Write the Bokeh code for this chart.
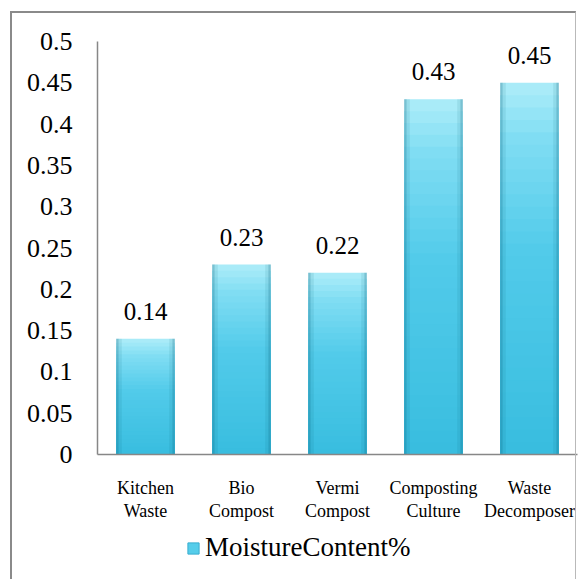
from bokeh.plotting import figure
from bokeh.layouts import column
from bokeh.models import (FactorRange, Range1d, FixedTicker, CategoricalAxis,
                          Legend, LegendItem, ColumnDataSource, InlineStyleSheet,
                          CustomJSTickFormatter)
from bokeh.transform import dodge
from bokeh.core.properties import value
from bokeh.embed import file_html
from bokeh.resources import INLINE

# --- data ---------------------------------------------------------------
categories = ["Kitchen Waste", "Bio Compost", "Vermi Compost",
              "Composting Culture", "Waste Decomposer"]
label_line1 = ["Kitchen", "Bio", "Vermi", "Composting", "Waste"]
label_line2 = ["Waste", "Compost", "Compost", "Culture", "Decomposer"]
moisture = [0.14, 0.23, 0.22, 0.43, 0.45]
value_labels = ["0.14", "0.23", "0.22", "0.43", "0.45"]
y_ticks = [0, 0.05, 0.1, 0.15, 0.2, 0.25, 0.3, 0.35, 0.4, 0.45, 0.5]
y_tick_labels = ["0", "0.05", "0.1", "0.15", "0.2", "0.25", "0.3", "0.35",
                 "0.4", "0.45", "0.5"]
series_name = "MoistureContent%"

SERIF = "Liberation Serif"
BAR_W = 0.61
MAIN_H = 530
LEGEND_H = 49

# thin grey frame drawn around the whole chart area (split over both parts)
top_css = InlineStyleSheet(css="""
:host { overflow: visible; }
:host::after {
  content: ""; position: absolute; pointer-events: none; z-index: 5;
  left: 10px; top: 11px; width: 566px; height: %dpx;
  border-top: 2px solid #8a8a8a;
  border-left: 2px solid #8a8a8a;
  border-right: 1px solid #b9b9b9;
}
""" % (MAIN_H - 11))
bottom_css = InlineStyleSheet(css="""
:host::after {
  content: ""; position: absolute; pointer-events: none; z-index: 5;
  left: 10px; top: -4px; width: 566px; height: %dpx;
  border-left: 2px solid #8a8a8a;
  border-right: 1px solid #b9b9b9;
}
""" % (LEGEND_H + 4))

p = figure(width=578, height=MAIN_H, x_range=FactorRange(*categories),
           y_range=Range1d(0, 0.5), output_backend="svg",
           toolbar_location=None, min_border_left=97, min_border_right=1,
           min_border_top=41, min_border_bottom=MAIN_H - 454)
p.stylesheets = [top_css]
p.outline_line_color = None
p.xgrid.grid_line_color = None
p.ygrid.grid_line_color = None
p.background_fill_color = "white"
p.border_fill_color = "white"

# --- cylinder-like bars: vertical shading, light at the top ---------------
def lerp(c1, c2, t):
    a = [int(c1[i:i + 2], 16) for i in (1, 3, 5)]
    b = [int(c2[i:i + 2], 16) for i in (1, 3, 5)]
    return "#%02x%02x%02x" % tuple(round(a[k] + (b[k] - a[k]) * t) for k in range(3))

stops = [(0.0, "#38bddf"), (0.55, "#52cbea"), (0.85, "#80ddf3"), (1.0, "#aeedf9")]

def shade(f):
    for (f0, c0), (f1, c1) in zip(stops[:-1], stops[1:]):
        if f0 <= f <= f1:
            return lerp(c0, c1, (f - f0) / (f1 - f0))
    return stops[-1][1]

# tallest layer first, each shorter layer painted over it (no seams)
N = 30
bx, bt, bc = [], [], []
for i in range(N, 0, -1):
    for cat, v in zip(categories, moisture):
        bx.append(cat)
        bt.append(v * i / N)
        bc.append(shade((i - 0.5) / N))
layers = ColumnDataSource(dict(x=bx, top=bt, color=bc))
p.vbar(x="x", top="top", width=BAR_W, source=layers,
       fill_color="color", line_color=None)

src = ColumnDataSource(dict(x=categories, top=moisture, label=value_labels))

# darker rims on both sides of each bar
for off, w, a in [(-BAR_W / 2 + 0.012, 0.024, 0.30), (BAR_W / 2 - 0.012, 0.024, 0.30),
                  (-BAR_W / 2 + 0.04, 0.035, 0.10), (BAR_W / 2 - 0.04, 0.035, 0.10)]:
    p.vbar(x=dodge("x", off, range=p.x_range), top="top", width=w, source=src,
           fill_color="#0a5f7a", fill_alpha=a, line_color=None)

# value labels above bars
p.text(x="x", y="top", text="label", source=src, text_align="center",
       text_baseline="bottom", y_offset=-19, text_font=value(SERIF),
       text_font_size="25px", text_color="black")

# --- axes ----------------------------------------------------------------
p.yaxis.ticker = FixedTicker(ticks=y_ticks)
p.yaxis.major_label_overrides = {t: s for t, s in zip(y_ticks, y_tick_labels)}

lookup_js = "return names[tick] !== undefined ? names[tick] : '';"
p.xaxis[0].formatter = CustomJSTickFormatter(
    args=dict(names=dict(zip(categories, label_line1))), code=lookup_js)

x2 = CategoricalAxis()
x2.formatter = CustomJSTickFormatter(
    args=dict(names=dict(zip(categories, label_line2))), code=lookup_js)
x2.axis_line_color = None
p.add_layout(x2, "below")

for ax in (p.xaxis[0], x2, p.yaxis[0]):
    ax.major_tick_line_color = None
    ax.minor_tick_line_color = None
    ax.major_tick_out = 0
    ax.major_tick_in = 0
    ax.major_label_text_font = SERIF
    ax.major_label_text_color = "black"
for ax in (p.xaxis[0], p.yaxis[0]):
    ax.axis_line_color = "#878787"
    ax.axis_line_width = 1.5
p.yaxis.major_label_text_font_size = "26px"
p.yaxis.major_label_standoff = 25
p.xaxis[0].major_label_text_font_size = "18px"
p.xaxis[0].major_label_standoff = 23
x2.major_label_text_font_size = "18px"
x2.major_label_standoff = 0

# --- legend strip under the chart ---------------------------------------
q = figure(width=578, height=LEGEND_H, x_range=Range1d(0, 1), y_range=Range1d(0, 1),
           output_backend="svg", toolbar_location=None,
           x_axis_type=None, y_axis_type=None,
           min_border_left=0, min_border_right=0, min_border_top=0,
           min_border_bottom=0)
q.stylesheets = [bottom_css]
q.outline_line_color = None
q.grid.visible = False
q.background_fill_color = "white"
q.border_fill_color = "white"

key = q.rect(x=[-5], y=[-5], width=0.1, height=0.1,
             fill_color="#55cdea", line_color="#3aaed0")
legend = Legend(items=[LegendItem(label=series_name, renderers=[key])],
                location=(89, 16), orientation="horizontal",
                glyph_width=14, glyph_height=14, label_standoff=5,
                label_text_font=SERIF, label_text_font_size="27px",
                label_text_color="black", padding=0, margin=0,
                border_line_color=None, background_fill_alpha=0)
q.add_layout(legend)

layout = column(p, q, spacing=0)
open("out.html", "w").write(file_html(layout, INLINE))
